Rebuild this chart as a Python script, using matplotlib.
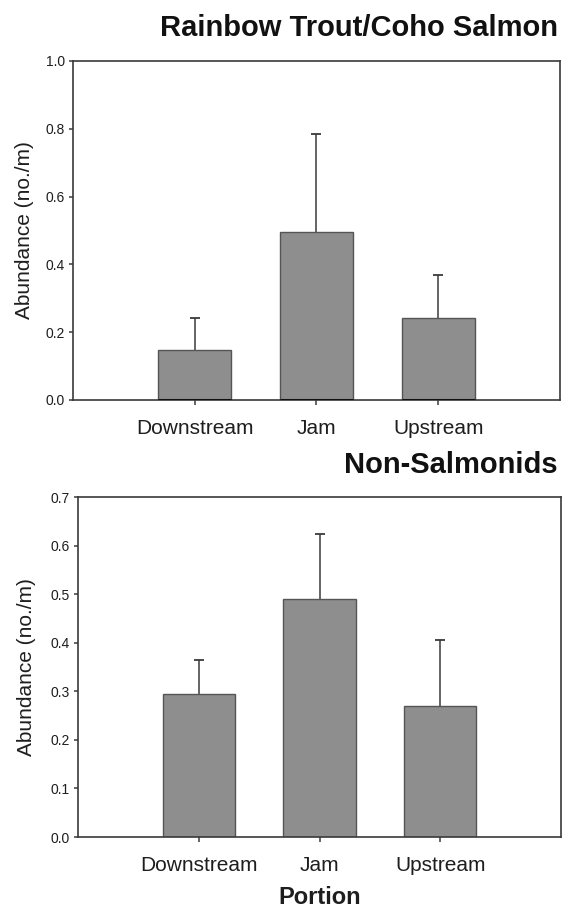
import numpy as np
import matplotlib
matplotlib.use("Agg")
import matplotlib.pyplot as plt

# --------------------------------------------------------------
# DATA
# --------------------------------------------------------------
categories = ["Downstream", "Jam", "Upstream"]

trout_mean = [0.147, 0.494, 0.241]
trout_err = [0.094, 0.291, 0.128]

nonsalm_mean = [0.294, 0.490, 0.270]
nonsalm_err = [0.070, 0.134, 0.135]

panel_titles = ["Rainbow Trout/Coho Salmon", "Non-Salmonids"]
y_label = "Abundance (no./m)"
x_label = "Portion"

plt.rcParams["font.family"] = ["Liberation Sans", "DejaVu Sans"]

BAR_COLOR = "#8e8e8e"
EDGE_COLOR = "#555555"
LINE_COLOR = "#3a3a3a"
TEXT_COLOR = "#1e1e1e"
BAR_WIDTH = 0.6


def draw_panel(ax, means, errs, ymax, ystep, base_line=False):
    x = np.arange(1, len(categories) + 1)
    means = np.asarray(means)
    tops = means + np.asarray(errs)
    ax.bar(x, means, width=BAR_WIDTH, color=BAR_COLOR, edgecolor=EDGE_COLOR,
           linewidth=1.0, zorder=2)
    # upper-only error bars: stem from the bar top plus a cap
    ax.vlines(x, means, tops, colors=LINE_COLOR, linewidth=1.1, zorder=1)
    ax.plot(x, tops, linestyle="none", marker="_", markersize=7,
            markeredgewidth=1.3, color=LINE_COLOR, zorder=1)
    if base_line:
        # thick dark line along the bottom of each bar
        ax.hlines(np.zeros(len(x)), x - BAR_WIDTH / 2, x + BAR_WIDTH / 2,
                  colors="#111111", linewidth=2.2, zorder=3)

    ax.set_xlim(0, 4)
    ax.set_ylim(0, ymax)
    ax.set_xticks(x)
    ax.set_xticklabels(categories, fontsize=15, color=TEXT_COLOR)
    yt = np.arange(0, ymax + ystep / 2, ystep)
    ax.set_yticks(yt)
    ax.set_yticklabels([f"{v:.1f}" for v in yt], fontsize=10, color=TEXT_COLOR)
    ax.tick_params(axis="y", direction="out", length=3, width=1.1,
                   color=LINE_COLOR, pad=3)
    ax.tick_params(axis="x", direction="out", length=3.5, width=1.1,
                   color=LINE_COLOR, pad=10)
    for s in ax.spines.values():
        s.set_color(LINE_COLOR)
        s.set_linewidth(1.2)
    ax.set_ylabel(y_label, fontsize=15, color=TEXT_COLOR)


fig = plt.figure(figsize=(5.64, 9.14), dpi=100)

ax1 = fig.add_axes([0.1294, 0.5624, 0.8635, 0.3709])
draw_panel(ax1, trout_mean, trout_err, 1.0, 0.2, base_line=True)
ax1.yaxis.set_label_coords(-0.080, 0.5)

ax2 = fig.add_axes([0.1383, 0.0842, 0.8564, 0.3720])
draw_panel(ax2, nonsalm_mean, nonsalm_err, 0.7, 0.1)
ax2.yaxis.set_label_coords(-0.087, 0.5)
ax2.set_xlabel(x_label, fontsize=17, fontweight="bold", color=TEXT_COLOR,
               labelpad=8)

fig.text(0.989, 0.9606, panel_titles[0], ha="right", va="baseline",
         fontsize=21, fontweight="bold", color="#111111")
fig.text(0.989, 0.4825, panel_titles[1], ha="right", va="baseline",
         fontsize=21, fontweight="bold", color="#111111")

fig.savefig("out.png", dpi=100)
